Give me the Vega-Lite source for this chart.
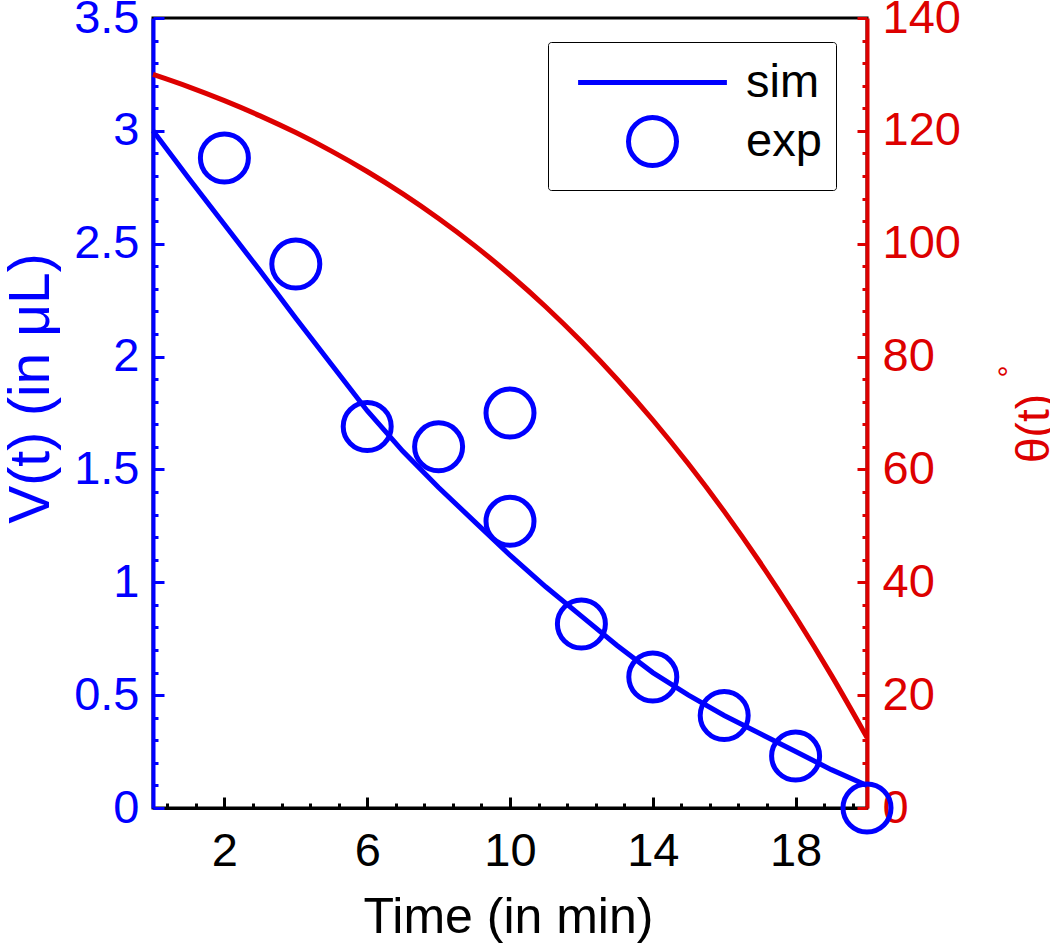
{
  "$schema": "https://vega.github.io/schema/vega-lite/v6.json",
  "width": 714,
  "height": 790,
  "autosize": {"type": "none"},
  "padding": {"left": 153, "top": 18, "right": 183, "bottom": 135},
  "background": "white",
  "config": {
    "view": {"stroke": "black", "strokeWidth": 3},
    "font": "Liberation Sans",
    "axis": {"grid": false, "labelFont": "Liberation Sans", "titleFont": "Liberation Sans", "titleFontWeight": "normal"}
  },
  "datasets": {
    "sim": [
      {"t": 0, "V": 3.0}, {"t": 1, "V": 2.79}, {"t": 2, "V": 2.585}, {"t": 3, "V": 2.38},
      {"t": 4, "V": 2.17}, {"t": 5, "V": 1.965}, {"t": 6, "V": 1.76}, {"t": 7, "V": 1.58},
      {"t": 8, "V": 1.42}, {"t": 9, "V": 1.27}, {"t": 10, "V": 1.12}, {"t": 11, "V": 0.98},
      {"t": 12, "V": 0.85}, {"t": 13, "V": 0.72}, {"t": 14, "V": 0.6}, {"t": 15, "V": 0.5},
      {"t": 16, "V": 0.41}, {"t": 17, "V": 0.33}, {"t": 18, "V": 0.25}, {"t": 19, "V": 0.17},
      {"t": 20, "V": 0.1}
    ],
    "exp": [
      {"t": 2, "V": 2.88}, {"t": 4, "V": 2.41}, {"t": 6, "V": 1.69}, {"t": 8, "V": 1.6},
      {"t": 10, "V": 1.75}, {"t": 10, "V": 1.27}, {"t": 12, "V": 0.815}, {"t": 14, "V": 0.58},
      {"t": 16, "V": 0.41}, {"t": 18, "V": 0.23}, {"t": 20, "V": 0.0}
    ],
    "theta": [
      {"t": 0, "theta": 130}, {"t": 1, "theta": 127.8}, {"t": 2, "theta": 125.35}, {"t": 3, "theta": 122.66},
      {"t": 4, "theta": 119.69}, {"t": 5, "theta": 116.41}, {"t": 6, "theta": 112.8}, {"t": 7, "theta": 108.83},
      {"t": 8, "theta": 104.47}, {"t": 9, "theta": 99.71}, {"t": 10, "theta": 94.5}, {"t": 11, "theta": 88.83},
      {"t": 12, "theta": 82.66}, {"t": 13, "theta": 75.99}, {"t": 14, "theta": 68.76}, {"t": 15, "theta": 60.96},
      {"t": 16, "theta": 52.57}, {"t": 17, "theta": 43.55}, {"t": 18, "theta": 33.89}, {"t": 19, "theta": 23.55},
      {"t": 20, "theta": 12.5}
    ]
  },
  "layer": [
    {
      "data": {"name": "sim"},
      "mark": {"type": "line", "color": "#0000ff", "strokeWidth": 5},
      "encoding": {
        "x": {
          "field": "t", "type": "quantitative",
          "scale": {"domain": [0, 20], "nice": false, "zero": false},
          "axis": {
            "orient": "bottom", "values": [2, 6, 10, 14, 18],
            "tickSize": -11, "tickWidth": 3, "tickColor": "black",
            "domainColor": "black", "domainWidth": 3,
            "labelFontSize": 47, "labelColor": "black", "labelPadding": 31,
            "title": "Time (in min)", "titleFontSize": 50, "titleColor": "black",
            "titleX": 355, "titleY": 124, "titleAlign": "center", "titleBaseline": "alphabetic"
          }
        },
        "y": {
          "field": "V", "type": "quantitative",
          "scale": {"domain": [0, 3.5], "nice": false, "zero": false},
          "axis": {
            "orient": "left", "values": [0, 0.5, 1, 1.5, 2, 2.5, 3, 3.5], "format": "~g",
            "tickSize": -11, "tickWidth": 3, "tickColor": "#0000ff",
            "domainColor": "#0000ff", "domainWidth": 4,
            "labelFontSize": 47, "labelColor": "#0000ff", "labelPadding": 25,
            "title": "V(t) (in μL)", "titleFontSize": 57, "titleColor": "#0000ff",
            "titleX": -105, "titleY": 370, "titleAngle": 270, "titleAlign": "center", "titleBaseline": "alphabetic"
          }
        }
      }
    },
    {
      "data": {"name": "exp"},
      "mark": {"type": "point", "filled": false, "color": "#0000ff", "strokeWidth": 5, "size": 2304, "opacity": 1},
      "encoding": {
        "x": {
          "field": "t", "type": "quantitative",
          "scale": {"domain": [0, 20], "nice": false, "zero": false},
          "axis": {
            "orient": "bottom",
            "values": [0.4, 1.2, 2.8, 3.6, 4.4, 5.2, 6.8, 7.6, 8.4, 9.2, 10.8, 11.6, 12.4, 13.2, 14.8, 15.6, 16.4, 17.2, 18.8, 19.6],
            "labels": false, "domain": false, "title": null,
            "tickSize": -5, "tickWidth": 3, "tickColor": "black"
          }
        },
        "y": {
          "field": "V", "type": "quantitative",
          "scale": {"domain": [0, 3.5], "nice": false, "zero": false},
          "axis": {
            "orient": "left",
            "values": [0.1, 0.2, 0.3, 0.4, 0.6, 0.7, 0.8, 0.9, 1.1, 1.2, 1.3, 1.4, 1.6, 1.7, 1.8, 1.9, 2.1, 2.2, 2.3, 2.4, 2.6, 2.7, 2.8, 2.9, 3.1, 3.2, 3.3, 3.4],
            "labels": false, "domain": false, "title": null,
            "tickSize": -5, "tickWidth": 3, "tickColor": "#0000ff"
          }
        },
        "shape": {
          "datum": "exp", "type": "nominal",
          "scale": {"domain": ["sim", "exp"], "range": ["M-3.1,0H3.1", "circle"]},
          "legend": {
            "orient": "none", "legendX": 395, "legendY": 24,
            "title": null, "padding": 14,
            "symbolSize": 2304, "symbolStrokeWidth": 5, "symbolStrokeColor": "#0000ff", "symbolFillColor": "transparent",
            "symbolOffset": 64, "labelOffset": 67, "rowPadding": 1,
            "labelFontSize": 47, "labelColor": "black", "labelFont": "Liberation Sans",
            "strokeColor": "black", "fillColor": "white", "cornerRadius": 3,
            "encode": {"legend": {"update": {"strokeWidth": {"value": 3}}}}
          }
        }
      }
    },
    {
      "data": {"name": "theta"},
      "mark": {"type": "line", "color": "#dd0000", "strokeWidth": 5, "interpolate": "monotone"},
      "encoding": {
        "x": {
          "field": "t", "type": "quantitative",
          "scale": {"domain": [0, 20], "nice": false, "zero": false},
          "axis": null
        },
        "y": {
          "field": "theta", "type": "quantitative",
          "scale": {"domain": [0, 140], "nice": false, "zero": false},
          "axis": {
            "orient": "right", "values": [0, 20, 40, 60, 80, 100, 120, 140], "format": "d",
            "tickSize": -10, "tickWidth": 3, "tickColor": "#dd0000",
            "domainColor": "#dd0000", "domainWidth": 4,
            "labelFontSize": 47, "labelColor": "#dd0000", "labelPadding": 25,
            "title": "θ(t)", "titleFontSize": 46, "titleColor": "#dd0000",
            "titleX": 181, "titleY": 410, "titleAngle": 270, "titleAlign": "center", "titleBaseline": "alphabetic"
          }
        }
      }
    },
    {
      "data": {"name": "theta"},
      "mark": {"type": "line", "color": "#dd0000", "strokeWidth": 5, "interpolate": "monotone", "opacity": 0},
      "encoding": {
        "x": {
          "field": "t", "type": "quantitative",
          "scale": {"domain": [0, 20], "nice": false, "zero": false},
          "axis": null
        },
        "y": {
          "field": "theta", "type": "quantitative",
          "scale": {"domain": [0, 140], "nice": false, "zero": false},
          "axis": {
            "orient": "right",
            "values": [4, 8, 12, 16, 24, 28, 32, 36, 44, 48, 52, 56, 64, 68, 72, 76, 84, 88, 92, 96, 104, 108, 112, 116, 124, 128, 132, 136],
            "labels": false, "domain": false,
            "tickSize": -5, "tickWidth": 3, "tickColor": "#dd0000",
            "title": "°", "titleFontSize": 30, "titleColor": "#dd0000",
            "titleX": 151, "titleY": 353, "titleAngle": 270, "titleAlign": "center", "titleBaseline": "alphabetic"
          }
        }
      }
    }
  ],
  "resolve": {"scale": {"x": "independent", "y": "independent"}}
}
